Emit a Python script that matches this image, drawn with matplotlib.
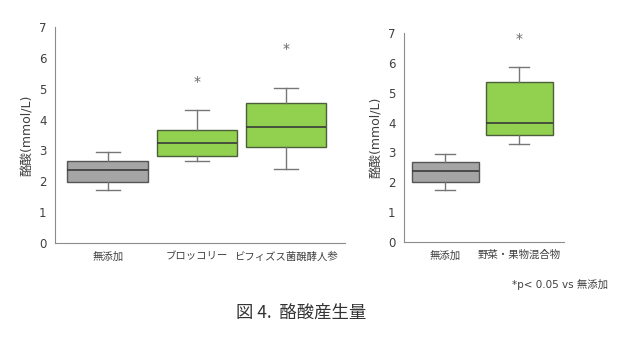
import matplotlib.pyplot as plt

plt.rcParams['font.family'] = ['DejaVu Sans', 'Noto Sans CJK JP']

# 酪酸産生量 (mmol/L): 5-number summaries per group
left_labels = ['無添加', 'ブロッコリー', 'ビフィズス菌醗酵人参']
left_low = [1.71, 2.65, 2.40]
left_q1 = [1.98, 2.82, 3.10]
left_med = [2.35, 3.25, 3.77]
left_q3 = [2.67, 3.66, 4.53]
left_high = [2.94, 4.30, 5.01]
left_star = [None, 5.22, 6.28]

right_labels = ['無添加', '野菜・果物混合物']
right_low = [1.73, 3.29]
right_q1 = [2.00, 3.59]
right_med = [2.37, 4.00]
right_q3 = [2.68, 5.36]
right_high = [2.94, 5.87]
right_star = [None, 6.80]

GRAY = '#a5a5a5'
GREEN = '#92d050'
EDGE = '#555555'
TXT = '#404040'
JP = ['Noto Sans CJK JP', 'DejaVu Sans']


def draw_panel(ax, labels, low, q1, med, q3, high, stars, xlim):
    stats = []
    for i in range(len(labels)):
        stats.append({'whislo': low[i], 'q1': q1[i], 'med': med[i],
                      'q3': q3[i], 'whishi': high[i], 'label': labels[i]})
    bp = ax.bxp(stats, positions=range(1, len(labels) + 1), widths=0.9,
                capwidths=0.27, patch_artist=True, showfliers=False,
                boxprops=dict(edgecolor=EDGE, linewidth=1.0),
                medianprops=dict(color='#3a3a3a', linewidth=1.2),
                whiskerprops=dict(color='#777777', linewidth=1.0),
                capprops=dict(color='#777777', linewidth=1.0))
    for i, box in enumerate(bp['boxes']):
        box.set_facecolor(GRAY if i == 0 else GREEN)
        if i > 0:
            box.set_edgecolor('#4d5f3a')
    for i, s in enumerate(stars):
        if s is not None:
            ax.text(i + 1, s, '*', ha='center', va='center', fontsize=10,
                    color='#666666')
    ax.set_ylim(0, 7)
    ax.set_xlim(*xlim)
    ax.set_yticks(range(8))
    for side in ['top', 'right']:
        ax.spines[side].set_visible(False)
    for side in ['left', 'bottom']:
        ax.spines[side].set_color('#8c8c8c')
    ax.tick_params(axis='both', length=0, colors=TXT)
    ax.tick_params(axis='y', labelsize=8.5, pad=6)
    ax.tick_params(axis='x', pad=6)
    for lab in ax.get_xticklabels():
        lab.set_family(JP)
        lab.set_fontsize(7.5)
    ax.set_ylabel('酪酸(mmol/L)', fontsize=9, color=TXT, labelpad=4)


fig = plt.figure(figsize=(6.4, 3.42), dpi=100)
ax1 = fig.add_axes([0.0859, 0.2895, 0.4531, 0.6316])
ax2 = fig.add_axes([0.631, 0.2924, 0.25, 0.611])

draw_panel(ax1, left_labels, left_low, left_q1, left_med, left_q3, left_high,
           left_star, (0.41, 3.66))
draw_panel(ax2, right_labels, right_low, right_q1, right_med, right_q3,
           right_high, right_star, (0.44, 2.60))

fig.text(0.80, 0.167, '*p< 0.05 vs 無添加', fontsize=7.5, color=TXT,
         ha='left', va='center')
fig.text(0.368, 0.085, '図 4.  酪酸産生量', fontsize=12.5, color='#333333',
         ha='left', va='center', family=JP)

fig.savefig('out.png', dpi=100)
